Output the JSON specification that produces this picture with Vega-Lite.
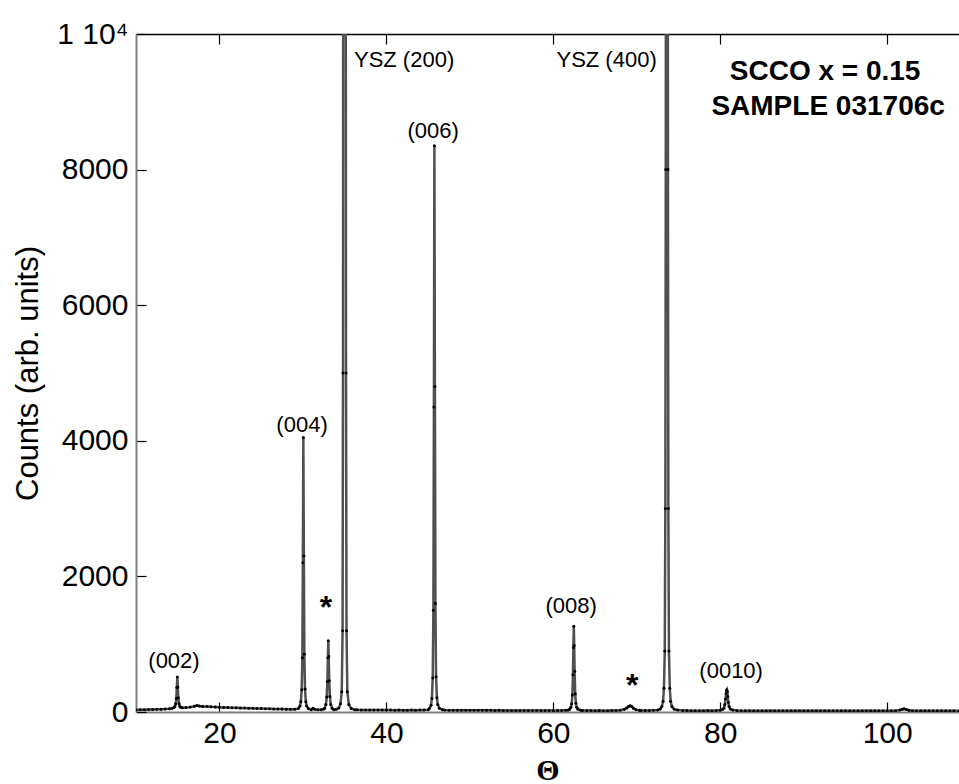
{
  "$schema": "https://vega.github.io/schema/vega-lite/v6.json",
  "width": 823,
  "height": 678,
  "autosize": {"type": "none"},
  "padding": {"left": 136, "top": 34, "right": 0, "bottom": 72},
  "config": {"view": {"stroke": null}, "font": "Liberation Sans"},
  "datasets": {
    "scan": [
      {"theta":10,"counts":30},{"theta":10.5,"counts":35},{"theta":11,"counts":32},{"theta":11.5,"counts":38},{"theta":12,"counts":36},{"theta":12.5,"counts":42},{"theta":13,"counts":40},{"theta":13.5,"counts":45},{"theta":14,"counts":48},
      {"theta":14.35,"counts":55},{"theta":14.55,"counts":65},{"theta":14.65,"counts":80},{"theta":14.75,"counts":120},{"theta":14.83,"counts":200},{"theta":14.89,"counts":360},{"theta":14.95,"counts":515},{"theta":15.01,"counts":370},{"theta":15.07,"counts":210},{"theta":15.15,"counts":120},{"theta":15.25,"counts":85},{"theta":15.35,"counts":70},{"theta":15.55,"counts":62},
      {"theta":16,"counts":65},{"theta":16.5,"counts":72},{"theta":17,"counts":85},{"theta":17.3,"counts":95},{"theta":17.6,"counts":88},{"theta":18,"counts":82},{"theta":18.5,"counts":80},{"theta":19,"counts":76},{"theta":19.5,"counts":74},{"theta":20,"counts":70},{"theta":20.5,"counts":68},{"theta":21,"counts":66},{"theta":21.5,"counts":64},{"theta":22,"counts":62},{"theta":22.5,"counts":60},{"theta":23,"counts":58},{"theta":23.5,"counts":56},{"theta":24,"counts":54},{"theta":24.5,"counts":52},{"theta":25,"counts":50},{"theta":25.5,"counts":49},{"theta":26,"counts":47},{"theta":26.5,"counts":46},{"theta":27,"counts":44},{"theta":27.5,"counts":43},{"theta":28,"counts":42},{"theta":28.5,"counts":40},{"theta":29,"counts":40},
      {"theta":29.45,"counts":50},{"theta":29.65,"counts":90},{"theta":29.75,"counts":150},{"theta":29.85,"counts":330},{"theta":29.93,"counts":800},{"theta":29.99,"counts":2200},{"theta":30.05,"counts":4050},{"theta":30.11,"counts":2300},{"theta":30.17,"counts":850},{"theta":30.25,"counts":340},{"theta":30.35,"counts":150},{"theta":30.45,"counts":90},{"theta":30.65,"counts":50},
      {"theta":31,"counts":35},{"theta":31.2,"counts":55},{"theta":31.4,"counts":40},{"theta":31.8,"counts":32},{"theta":32.2,"counts":35},{"theta":32.5,"counts":45},
      {"theta":32.6,"counts":55},{"theta":32.75,"counts":110},{"theta":32.85,"counts":220},{"theta":32.93,"counts":450},{"theta":32.99,"counts":800},{"theta":33.04,"counts":1050},{"theta":33.09,"counts":820},{"theta":33.15,"counts":460},{"theta":33.23,"counts":230},{"theta":33.33,"counts":110},{"theta":33.5,"counts":55},{"theta":33.7,"counts":35},{"theta":34,"counts":40},{"theta":34.3,"counts":60},
      {"theta":34.5,"counts":120},{"theta":34.65,"counts":300},{"theta":34.75,"counts":1200},{"theta":34.8,"counts":5000},{"theta":34.83,"counts":12000},{"theta":34.9,"counts":40000},{"theta":34.98,"counts":60000},{"theta":35.06,"counts":40000},{"theta":35.13,"counts":12000},{"theta":35.16,"counts":5000},{"theta":35.22,"counts":1200},{"theta":35.32,"counts":300},{"theta":35.5,"counts":110},{"theta":35.8,"counts":50},{"theta":36.2,"counts":35},
      {"theta":36.5,"counts":32},{"theta":37,"counts":30},{"theta":37.5,"counts":31},{"theta":38,"counts":29},{"theta":38.5,"counts":30},{"theta":39,"counts":28},{"theta":39.5,"counts":29},{"theta":40,"counts":28},{"theta":40.5,"counts":28},{"theta":41,"counts":27},{"theta":41.5,"counts":28},{"theta":42,"counts":27},{"theta":42.5,"counts":27},{"theta":43,"counts":28},{"theta":43.5,"counts":27},{"theta":44,"counts":28},{"theta":44.5,"counts":30},{"theta":45,"counts":35},
      {"theta":45.15,"counts":50},{"theta":45.35,"counts":100},{"theta":45.45,"counts":200},{"theta":45.55,"counts":500},{"theta":45.63,"counts":1500},{"theta":45.69,"counts":4500},{"theta":45.75,"counts":8350},{"theta":45.81,"counts":4800},{"theta":45.87,"counts":1600},{"theta":45.95,"counts":520},{"theta":46.05,"counts":210},{"theta":46.15,"counts":110},{"theta":46.35,"counts":55},{"theta":46.7,"counts":35},
      {"theta":47,"counts":28},{"theta":47.5,"counts":27},{"theta":48,"counts":26},{"theta":48.5,"counts":27},{"theta":49,"counts":25},{"theta":49.5,"counts":26},{"theta":50,"counts":25},{"theta":50.5,"counts":25},{"theta":51,"counts":24},{"theta":51.5,"counts":25},{"theta":52,"counts":24},{"theta":52.5,"counts":24},{"theta":53,"counts":23},{"theta":53.5,"counts":24},{"theta":54,"counts":23},{"theta":54.5,"counts":23},{"theta":55,"counts":22},{"theta":55.5,"counts":23},{"theta":56,"counts":22},{"theta":56.5,"counts":22},{"theta":57,"counts":22},{"theta":57.5,"counts":21},{"theta":58,"counts":22},{"theta":58.5,"counts":21},{"theta":59,"counts":21},{"theta":59.5,"counts":22},{"theta":60,"counts":21},{"theta":60.5,"counts":21},{"theta":61,"counts":22},{"theta":61.5,"counts":24},{"theta":61.8,"counts":30},
      {"theta":61.95,"counts":40},{"theta":62.1,"counts":70},{"theta":62.2,"counts":120},{"theta":62.28,"counts":250},{"theta":62.35,"counts":550},{"theta":62.4,"counts":950},{"theta":62.45,"counts":1265},{"theta":62.5,"counts":980},{"theta":62.55,"counts":600},{"theta":62.62,"counts":270},{"theta":62.7,"counts":130},{"theta":62.8,"counts":70},{"theta":62.95,"counts":40},{"theta":63.3,"counts":25},
      {"theta":63.5,"counts":22},{"theta":64,"counts":21},{"theta":64.5,"counts":21},{"theta":65,"counts":20},{"theta":65.5,"counts":21},{"theta":66,"counts":20},{"theta":66.5,"counts":20},{"theta":67,"counts":21},{"theta":67.5,"counts":22},{"theta":68,"counts":25},{"theta":68.5,"counts":40},{"theta":68.8,"counts":60},{"theta":69,"counts":80},{"theta":69.2,"counts":92},{"theta":69.4,"counts":80},{"theta":69.6,"counts":55},{"theta":69.9,"counts":35},{"theta":70.3,"counts":24},{"theta":70.5,"counts":22},{"theta":71,"counts":21},{"theta":71.5,"counts":22},{"theta":72,"counts":24},{"theta":72.5,"counts":30},{"theta":72.8,"counts":45},
      {"theta":73,"counts":80},{"theta":73.15,"counts":160},{"theta":73.25,"counts":350},{"theta":73.35,"counts":900},{"theta":73.42,"counts":3000},{"theta":73.47,"counts":8000},{"theta":73.5,"counts":14000},{"theta":73.6,"counts":60000},{"theta":73.7,"counts":14000},{"theta":73.73,"counts":8000},{"theta":73.78,"counts":3000},{"theta":73.85,"counts":900},{"theta":73.95,"counts":350},{"theta":74.05,"counts":160},{"theta":74.2,"counts":80},{"theta":74.5,"counts":40},{"theta":74.9,"counts":28},
      {"theta":75.5,"counts":22},{"theta":76,"counts":21},{"theta":76.5,"counts":20},{"theta":77,"counts":20},{"theta":77.5,"counts":20},{"theta":78,"counts":20},{"theta":78.5,"counts":21},{"theta":79,"counts":20},{"theta":79.5,"counts":21},{"theta":80,"counts":24},{"theta":80.3,"counts":40},
      {"theta":80.45,"counts":60},{"theta":80.55,"counts":110},{"theta":80.63,"counts":190},{"theta":80.7,"counts":270},{"theta":80.75,"counts":320},{"theta":80.79,"counts":330},{"theta":80.84,"counts":300},{"theta":80.9,"counts":230},{"theta":80.97,"counts":140},{"theta":81.05,"counts":80},{"theta":81.2,"counts":45},{"theta":81.5,"counts":28},
      {"theta":82,"counts":21},{"theta":82.5,"counts":20},{"theta":83,"counts":19},{"theta":83.5,"counts":20},{"theta":84,"counts":19},{"theta":84.5,"counts":19},{"theta":85,"counts":20},{"theta":85.5,"counts":19},{"theta":86,"counts":18},{"theta":86.5,"counts":19},{"theta":87,"counts":18},{"theta":87.5,"counts":19},{"theta":88,"counts":18},{"theta":88.5,"counts":18},{"theta":89,"counts":19},{"theta":89.5,"counts":18},{"theta":90,"counts":18},{"theta":90.5,"counts":17},{"theta":91,"counts":18},{"theta":91.5,"counts":18},{"theta":92,"counts":17},{"theta":92.5,"counts":18},{"theta":93,"counts":17},{"theta":93.5,"counts":17},{"theta":94,"counts":18},{"theta":94.5,"counts":17},{"theta":95,"counts":17},{"theta":95.5,"counts":18},{"theta":96,"counts":17},{"theta":96.5,"counts":17},{"theta":97,"counts":18},{"theta":97.5,"counts":17},{"theta":98,"counts":17},{"theta":98.5,"counts":18},{"theta":99,"counts":17},{"theta":99.5,"counts":17},{"theta":100,"counts":18},{"theta":100.5,"counts":18},{"theta":101,"counts":20},{"theta":101.5,"counts":30},{"theta":101.8,"counts":42},{"theta":102,"counts":48},{"theta":102.3,"counts":38},{"theta":102.6,"counts":25},{"theta":103,"counts":19},{"theta":103.5,"counts":18},{"theta":104,"counts":17},{"theta":104.5,"counts":18},{"theta":105,"counts":17},{"theta":105.5,"counts":17},{"theta":106,"counts":18},{"theta":106.5,"counts":17},{"theta":107,"counts":17},{"theta":107.5,"counts":18},{"theta":108,"counts":17},{"theta":108.6,"counts":17}
    ],
    "notes": [
      {"theta":42.12,"counts":9513,"label":"YSZ (200)","group":"hkl"},
      {"theta":66.38,"counts":9513,"label":"YSZ (400)","group":"hkl"},
      {"theta":45.59,"counts":8466,"label":"(006)","group":"hkl"},
      {"theta":29.89,"counts":4134,"label":"(004)","group":"hkl"},
      {"theta":14.55,"counts":649,"label":"(002)","group":"hkl"},
      {"theta":62.13,"counts":1460,"label":"(008)","group":"hkl"},
      {"theta":81.3,"counts":501,"label":"(0010)","group":"hkl"},
      {"theta":32.77,"counts":1380,"label":"*","group":"star"},
      {"theta":69.44,"counts":230,"label":"*","group":"star"},
      {"theta":92.56,"counts":9322,"label":"SCCO x = 0.15","group":"sample"},
      {"theta":92.92,"counts":8805,"label":"SAMPLE 031706c","group":"sample"}
    ]
  },
  "layer": [
    {
      "data": {"name": "scan"},
      "mark": {"type": "line", "color": "#505050", "strokeWidth": 2.5, "clip": true},
      "encoding": {
        "x": {"field": "theta", "type": "quantitative",
          "scale": {"domain": [10, 108.6], "nice": false, "zero": false},
          "axis": {"orient": "bottom", "values": [20, 40, 60, 80, 100], "grid": false,
            "domainColor": "#808080", "domainWidth": 2, "tickColor": "black", "tickWidth": 1.2, "tickSize": -10,
            "labelFontSize": 30, "labelFont": "Liberation Sans", "labelColor": "black", "labelPadding": 16,
            "title": "Θ", "titleFont": "Liberation Serif", "titleFontSize": 30, "titleFontWeight": "bold", "titleColor": "black",
            "titleBaseline": "alphabetic", "titleY": 67}},
        "y": {"field": "counts", "type": "quantitative",
          "scale": {"domain": [0, 10000], "nice": false},
          "axis": {"values": [0, 2000, 4000, 6000, 8000, 10000], "format": "d",
            "labelExpr": "datum.value == 10000 ? '1 10⁴' : datum.label", "grid": false,
            "domainColor": "#808080", "domainWidth": 2, "tickColor": "black", "tickWidth": 1.2, "tickSize": -10,
            "labelFontSize": 30, "labelFont": "Liberation Sans", "labelColor": "black", "labelPadding": 18,
            "title": "Counts (arb. units)", "titleFont": "Liberation Sans", "titleFontSize": 31, "titleFontWeight": "normal", "titleColor": "black", "titlePadding": 12}}
      }
    },
    {
      "data": {"name": "scan"},
      "mark": {"type": "point", "filled": true, "color": "black", "size": 9, "opacity": 1, "clip": true},
      "encoding": {
        "x": {"field": "theta", "type": "quantitative",
          "axis": {"orient": "top", "values": [20, 40, 60, 80, 100], "labels": false, "title": null, "grid": false,
            "domainColor": "black", "domainWidth": 1.5, "tickColor": "black", "tickWidth": 1.2, "tickSize": -10}},
        "y": {"field": "counts", "type": "quantitative", "axis": null}
      }
    },
    {
      "data": {"name": "notes"},
      "transform": [{"filter": "datum.group == 'hkl'"}],
      "mark": {"type": "text", "align": "center", "baseline": "alphabetic", "fontSize": 22, "font": "Liberation Sans", "color": "black"},
      "encoding": {
        "x": {"field": "theta", "type": "quantitative", "axis": null},
        "y": {"field": "counts", "type": "quantitative", "axis": null},
        "text": {"field": "label"}
      }
    },
    {
      "data": {"name": "notes"},
      "transform": [{"filter": "datum.group == 'star'"}],
      "mark": {"type": "text", "align": "center", "baseline": "alphabetic", "fontSize": 32, "fontWeight": "bold", "font": "Liberation Sans", "color": "black"},
      "encoding": {
        "x": {"field": "theta", "type": "quantitative", "axis": null},
        "y": {"field": "counts", "type": "quantitative", "axis": null},
        "text": {"field": "label"}
      }
    },
    {
      "data": {"name": "notes"},
      "transform": [{"filter": "datum.group == 'sample'"}],
      "mark": {"type": "text", "align": "center", "baseline": "alphabetic", "fontSize": 28, "fontWeight": "bold", "font": "Liberation Sans", "color": "black"},
      "encoding": {
        "x": {"field": "theta", "type": "quantitative", "axis": null},
        "y": {"field": "counts", "type": "quantitative", "axis": null},
        "text": {"field": "label"}
      }
    }
  ],
  "resolve": {"axis": {"x": "independent", "y": "independent"}}
}
